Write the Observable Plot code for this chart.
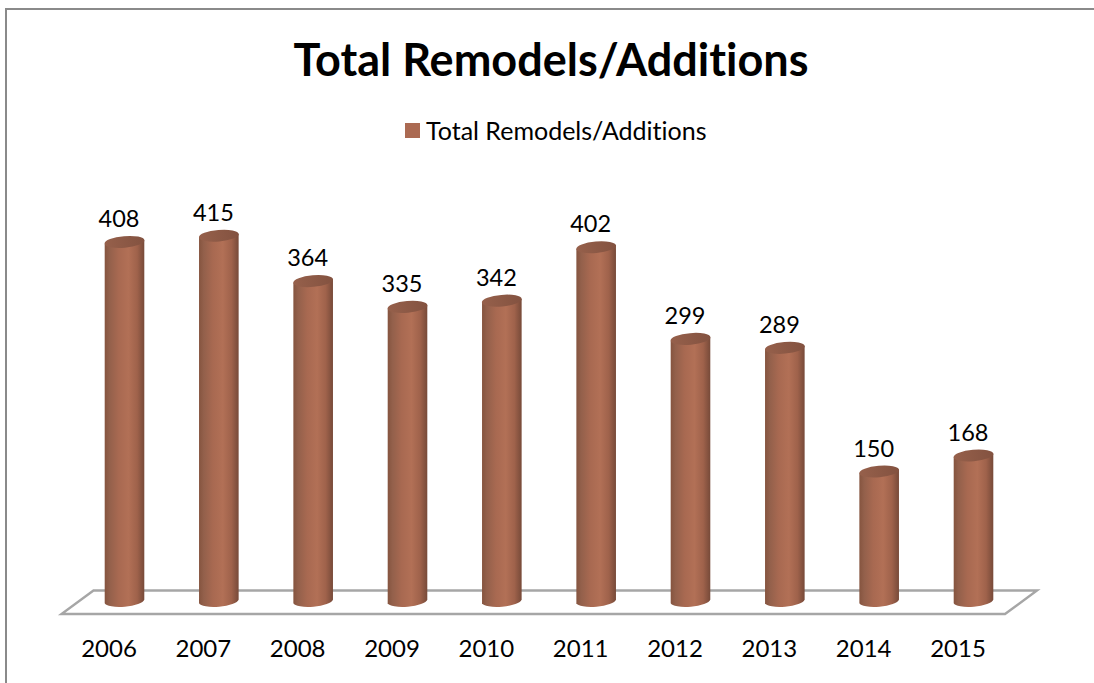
<!DOCTYPE html>
<html><head><meta charset="utf-8">
<script src="https://cdn.jsdelivr.net/npm/d3@7"></script>
<script src="https://cdn.jsdelivr.net/npm/@observablehq/plot@0.6"></script>
<style>
html,body{margin:0;padding:0;background:#fff;overflow:hidden}
#page{position:relative;width:1094px;height:683px;overflow:hidden;font-family:Lato,sans-serif;color:#000;font-variant-ligatures:none}
#frameTop{position:absolute;left:5px;top:8px;right:0;height:1.5px;background:#8a8a8a}
#frameLeft{position:absolute;left:5px;top:8px;bottom:0;width:2px;background:#8a8a8a}
#title{position:absolute;left:0;width:1102px;top:33px;text-align:center;font-weight:700;font-size:45px;line-height:52px}
#legend{position:absolute;left:405px;top:114px;height:32px;display:flex;align-items:center;font-size:25px}
#legend i{display:block;width:15px;height:15px;background:#ab6a52;margin-right:6px}
#chart{position:absolute;left:0;top:150px}
svg{display:block}
</style></head><body>
<div id="page"><div id="frameTop"></div><div id="frameLeft"></div>
<div id="title">Total Remodels/Additions</div>
<div id="legend"><i></i><span>Total Remodels/Additions</span></div>
<div id="chart"></div></div>
<script>
const years = [2006,2007,2008,2009,2010,2011,2012,2013,2014,2015];
const totals = [408,415,364,335,342,402,299,289,150,168];
const rows = years.map((year,i)=>({year,total:totals[i]}));

function cylinders(index, {x,y}) {
  const g = d3.create("svg:g");
  const defs = g.append("defs");
  const body = defs.append("linearGradient").attr("id","cyl");
  [[0,"#85543f"],[.12,"#93604b"],[.35,"#a86951"],[.6,"#b27056"],[.82,"#9f624b"],[1,"#774a39"]]
    .forEach(([o,c])=>body.append("stop").attr("offset",o).attr("stop-color",c));
  const cap = defs.append("linearGradient").attr("id","cap");
  [[0,"#96604b"],[1,"#835240"]].forEach(([o,c])=>cap.append("stop").attr("offset",o).attr("stop-color",c));
  const rx=20, ry=5.8, a=-5, dx=19.8, dy=1.7;
  const x0=x(years[0]), x1=x(years[years.length-1]), b=y(0);
  g.append("path").attr("fill","none").attr("stroke","#a6a6a6").attr("stroke-width",2.4)
    .attr("stroke-linejoin","miter")
    .attr("d",`M${x0-63},${b+9}L${x1+31.5},${b+9}L${x1+63.5},${b-14.5}L${x0-31},${b-14.5}Z`);
  for (const r of rows) {
    const cx=x(r.year), ty=y(r.total), by=b-3.5;
    g.append("path").attr("fill","url(#cyl)")
      .attr("d",`M${cx-dx},${ty+dy}L${cx-dx},${by+dy}A${rx},${ry} ${a} 0 0 ${cx+dx},${by-dy}L${cx+dx},${ty-dy}Z`);
    g.append("ellipse").attr("cx",cx).attr("cy",ty).attr("rx",rx).attr("ry",ry)
      .attr("transform",`rotate(${a} ${cx} ${ty})`).attr("fill","url(#cap)");
  }
  return g.node();
}

const chart = Plot.plot({
  width:1094, height:533,
  marginTop:0, marginLeft:0, marginRight:0, marginBottom:60,
  style:{background:"transparent",fontFamily:"Lato,sans-serif"},
  x:{type:"point",domain:years,range:[124.5,973.5],padding:0,round:false,axis:null},
  y:{domain:[0,415],range:[455,85.7],axis:null},
  marks:[
    cylinders,
    Plot.text(rows,{x:"year",y:"total",text:"total",dx:-6,dy:-23,fontSize:23.5,fill:"#000"}),
    Plot.axisX({tickSize:0,tickPadding:16,dx:-16,fontSize:24,tickFormat:d=>String(d),label:null,color:"#000"}),
  ]
});
document.getElementById("chart").append(chart);
</script></body></html>
